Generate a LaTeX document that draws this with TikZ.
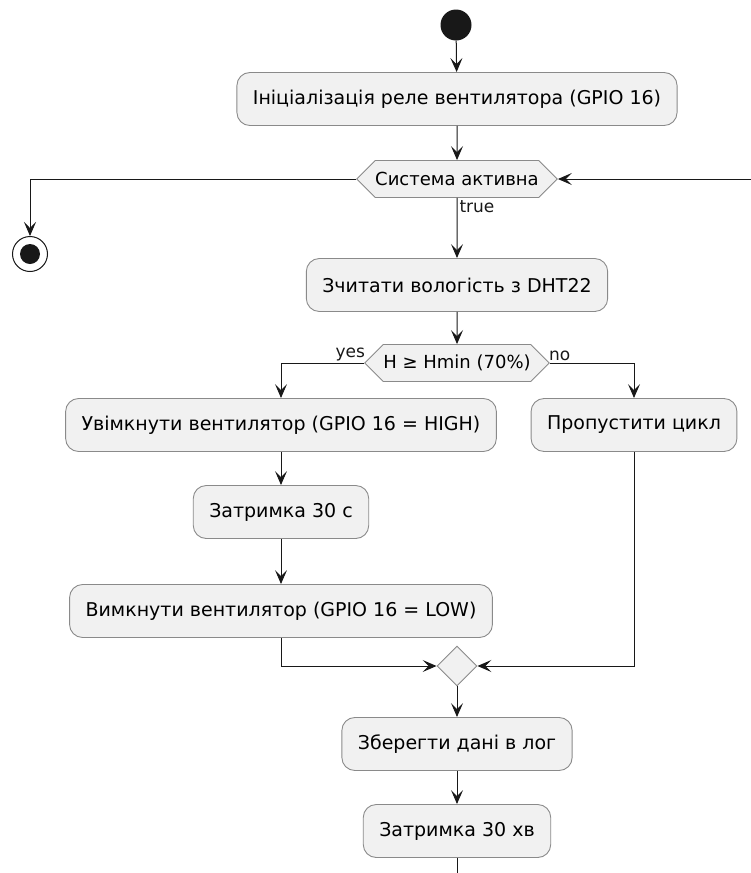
\documentclass[tikz,border=0pt]{standalone}
\usepackage{fontspec}
\setmainfont{DejaVu Sans}
\usetikzlibrary{arrows.meta, shapes.geometric, shapes.symbols}
\definecolor{boxfill}{HTML}{F1F1F1}
\definecolor{boxline}{HTML}{8A8A8A}
\definecolor{ink}{HTML}{181818}
\tikzset{
  act/.style={draw=boxline, fill=boxfill, rounded corners=13pt, line width=0.9pt,
    minimum height=53pt, inner xsep=16pt, font=\fontsize{19}{22}\selectfont},
  cond/.style={draw=boxline, fill=boxfill, signal, signal to=west and east,
    signal pointer angle=90, minimum height=37pt, inner xsep=0pt, line width=0.9pt,
    font=\fontsize{18}{21}\selectfont},
  merge/.style={draw=boxline, fill=boxfill, diamond, minimum size=40pt, inner sep=0pt, line width=0.9pt},
  flow/.style={draw=ink, line width=1pt, -{Stealth[length=14pt, width=12pt, inset=6pt]}},
  line/.style={draw=ink, line width=1pt},
  lbl/.style={font=\fontsize{17}{19}\selectfont, text=ink, inner sep=2pt}
}
\begin{document}
\begin{tikzpicture}[x=1pt, y=-1pt]
\useasboundingbox (0,0) rectangle (751,873);
% start and stop
\node[circle, fill=ink, minimum size=31pt, inner sep=0pt] (start) at (456,25) {};
\node[circle, draw=ink, fill=white, line width=1pt, minimum size=35pt, inner sep=0pt] (stop) at (30,254) {};
\fill[ink] (stop.center) circle (10pt);
% actions
\node[act] (init) at (457,99) {Ініціалізація реле вентилятора (GPIO 16)};
\node[cond] (active) at (457,179) {Система активна};
\node[act] (read) at (457,285) {Зчитати вологість з DHT22};
\node[cond] (hcheck) at (457,363) {H ≥ Hmin (70\%)};
\node[act] (fanon) at (281,425) {Увімкнути вентилятор (GPIO 16 = HIGH)};
\node[act] (skip) at (634,425) {Пропустити цикл};
\node[act] (wait30s) at (281,512) {Затримка 30 с};
\node[act] (fanoff) at (281,611) {Вимкнути вентилятор (GPIO 16 = LOW)};
\node[merge] (join) at (457,666) {};
\node[act] (savelog) at (457,744) {Зберегти дані в лог};
\node[act] (wait30m) at (457,831) {Затримка 30 хв};
\coordinate (back) at (751,179);
\coordinate (tail) at (457,873);
% connectors
\draw[flow] (start) -- (init);
\draw[flow] (init) -- (active);
\draw[flow] (active.west) -| (stop);
\draw[flow] (back) -- (active.east);
\draw[flow] (active) -- node[lbl, pos=0.15, right]{true} (read);
\draw[flow] (read) -- (hcheck);
\draw[flow] (hcheck.west) -| (fanon);
\node[lbl, above left, xshift=3pt] at (hcheck.west) {yes};
\draw[flow] (hcheck.east) -| (skip);
\node[lbl, above right, xshift=-3pt] at (hcheck.east) {no};
\draw[flow] (fanon) -- (wait30s);
\draw[flow] (wait30s) -- (fanoff);
\draw[flow] (fanoff) |- (join.west);
\draw[flow] (skip) |- (join.east);
\draw[flow] (join) -- (savelog);
\draw[flow] (savelog) -- (wait30m);
\draw[line] (wait30m) -- (tail);
\end{tikzpicture}
\end{document}
